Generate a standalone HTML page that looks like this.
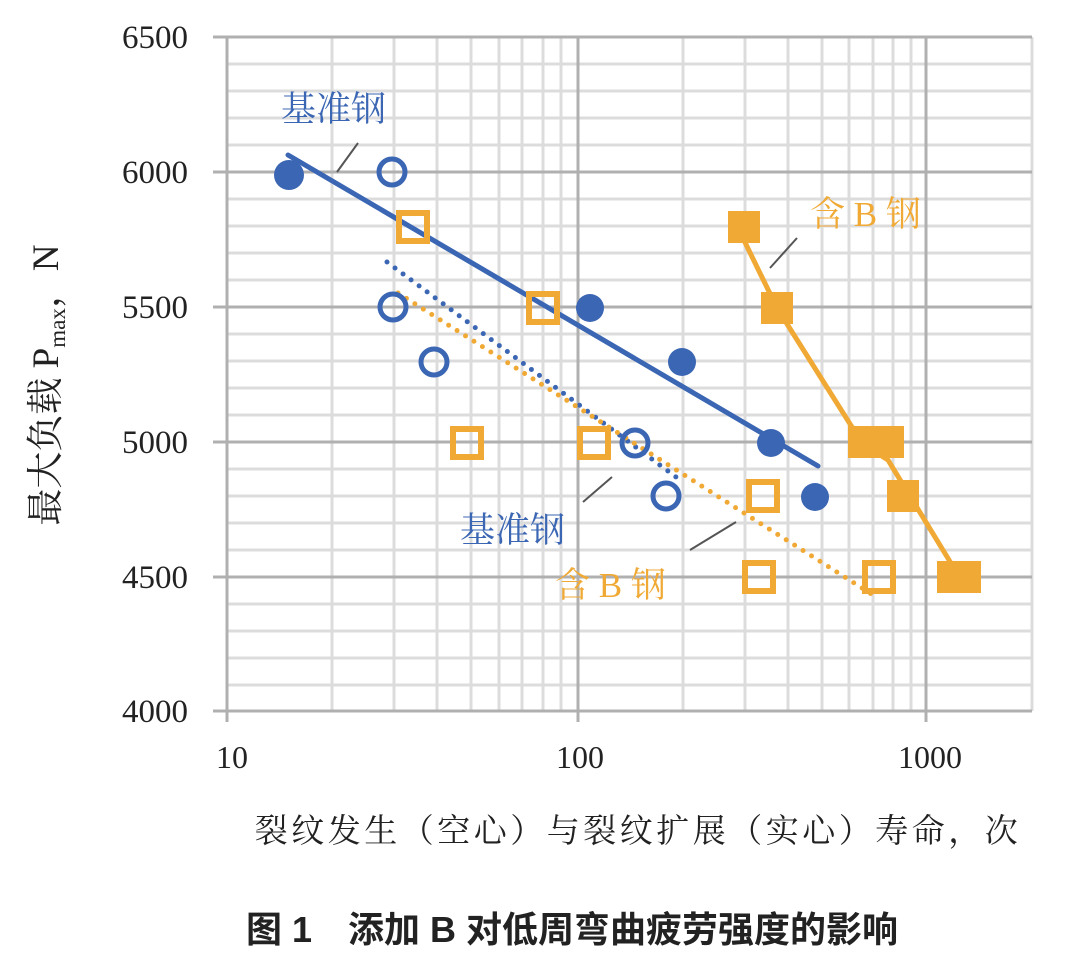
<!DOCTYPE html><html><head><meta charset="utf-8"><style>body{margin:0;background:#fff}svg{display:block}</style></head><body>
<svg width="1080" height="967" xmlns="http://www.w3.org/2000/svg" font-family="Liberation Serif, Noto Serif CJK SC, serif">
<g stroke="#dcdcdc" stroke-width="3">
<line x1="226" x2="1032" y1="64" y2="64"/><line x1="226" x2="1032" y1="91" y2="91"/><line x1="226" x2="1032" y1="118" y2="118"/><line x1="226" x2="1032" y1="145" y2="145"/>
<line x1="226" x2="1032" y1="199" y2="199"/><line x1="226" x2="1032" y1="226" y2="226"/><line x1="226" x2="1032" y1="253" y2="253"/><line x1="226" x2="1032" y1="280" y2="280"/>
<line x1="226" x2="1032" y1="334" y2="334"/><line x1="226" x2="1032" y1="361" y2="361"/><line x1="226" x2="1032" y1="388" y2="388"/><line x1="226" x2="1032" y1="415" y2="415"/>
<line x1="226" x2="1032" y1="469" y2="469"/><line x1="226" x2="1032" y1="496" y2="496"/><line x1="226" x2="1032" y1="523" y2="523"/><line x1="226" x2="1032" y1="550" y2="550"/>
<line x1="226" x2="1032" y1="604" y2="604"/><line x1="226" x2="1032" y1="631" y2="631"/><line x1="226" x2="1032" y1="658" y2="658"/><line x1="226" x2="1032" y1="685" y2="685"/>
<line y1="37" y2="711" x1="332" x2="332"/><line y1="37" y2="711" x1="394" x2="394"/><line y1="37" y2="711" x1="437" x2="437"/><line y1="37" y2="711" x1="471" x2="471"/><line y1="37" y2="711" x1="499" x2="499"/><line y1="37" y2="711" x1="522" x2="522"/><line y1="37" y2="711" x1="543" x2="543"/><line y1="37" y2="711" x1="561" x2="561"/>
<line y1="37" y2="711" x1="683" x2="683"/><line y1="37" y2="711" x1="745" x2="745"/><line y1="37" y2="711" x1="788" x2="788"/><line y1="37" y2="711" x1="822" x2="822"/><line y1="37" y2="711" x1="849" x2="849"/><line y1="37" y2="711" x1="873" x2="873"/><line y1="37" y2="711" x1="893" x2="893"/><line y1="37" y2="711" x1="911" x2="911"/>
<line y1="37" y2="711" x1="1032" x2="1032"/>
</g>
<g stroke="#b0b0b0" stroke-width="3">
<line x1="213" x2="1032" y1="37" y2="37"/><line x1="213" x2="1032" y1="172" y2="172"/><line x1="213" x2="1032" y1="307" y2="307"/><line x1="213" x2="1032" y1="442" y2="442"/><line x1="213" x2="1032" y1="577" y2="577"/><line x1="213" x2="1032" y1="711" y2="711"/>
<line y1="37" y2="722" x1="227" x2="227"/><line y1="37" y2="722" x1="578" x2="578"/><line y1="37" y2="722" x1="926" x2="926"/>
</g>
<g font-size="33" fill="#222" text-anchor="end"><text x="188" y="48">6500</text><text x="188" y="183">6000</text><text x="188" y="318">5500</text><text x="188" y="453">5000</text><text x="188" y="588">4500</text><text x="188" y="722">4000</text></g>
<g font-size="32" fill="#222" text-anchor="middle"><text x="232" y="768">10</text><text x="580" y="768">100</text><text x="930" y="768">1000</text></g>
<g stroke-linecap="round">
<line x1="288" y1="155" x2="818" y2="466" stroke="#3b66b3" stroke-width="5"/>
<polyline points="738,228 777,308 862,443 888,460 960,578" fill="none" stroke="#f0a935" stroke-width="5"/>
<line x1="387" y1="262" x2="680" y2="480" stroke="#3b66b3" stroke-width="5" stroke-dasharray="0 10"/>
<line x1="398" y1="293" x2="873" y2="595" stroke="#f0a935" stroke-width="5" stroke-dasharray="0 10"/>
</g>
<g stroke="#555" stroke-width="2"><line x1="337" y1="172" x2="358" y2="143"/><line x1="770" y1="268" x2="797" y2="238"/><line x1="583" y1="502" x2="612" y2="477"/><line x1="690" y1="550" x2="736" y2="522"/></g>
<g fill="#3b66b3"><circle cx="289" cy="175" r="15"/><circle cx="590" cy="308" r="14"/><circle cx="682" cy="362" r="14"/><circle cx="771" cy="443" r="14"/><circle cx="815" cy="497" r="14"/></g>
<g fill="none" stroke="#3b66b3" stroke-width="5"><circle cx="392" cy="172" r="13"/><circle cx="393" cy="307" r="13"/><circle cx="434" cy="362" r="13"/><circle cx="635" cy="443" r="13"/><circle cx="666" cy="496" r="13"/></g>
<g fill="none" stroke="#f0a935" stroke-width="6"><rect x="399" y="213" width="28" height="28"/><rect x="529" y="294" width="28" height="28"/><rect x="453" y="429" width="28" height="28"/><rect x="580" y="429" width="28" height="28"/><rect x="749" y="482" width="28" height="28"/><rect x="745" y="563" width="28" height="28"/><rect x="865" y="563" width="28" height="28"/></g>
<g fill="#f0a935"><rect x="728" y="211" width="32" height="32"/><rect x="761" y="292" width="32" height="32"/><rect x="848" y="426" width="56" height="32"/><rect x="887" y="480" width="32" height="32"/><rect x="937" y="561" width="44" height="32"/></g>
<g font-family="Liberation Serif, Noto Serif CJK SC, serif" font-size="35">
<text x="281" y="121" fill="#3b66b3">基准钢</text><text x="460" y="542" fill="#3b66b3">基准钢</text>
<text x="810" y="226" fill="#f0a935">含 B 钢</text><text x="555" y="597" fill="#f0a935">含 B 钢</text></g>
<text transform="translate(58,385) rotate(-90)" text-anchor="middle" font-size="37" fill="#222">最大负载 P<tspan font-size="23" dy="7">max</tspan><tspan dy="-7">，N</tspan></text>
<text x="638" y="842" text-anchor="middle" font-size="33" fill="#222" letter-spacing="3.5">裂纹发生（空心）与裂纹扩展（实心）寿命，次</text>
<text x="572" y="942" text-anchor="middle" font-size="36" font-weight="bold" fill="#222" font-family="Liberation Sans, Noto Sans CJK SC, sans-serif">图 1　添加 B 对低周弯曲疲劳强度的影响</text>
</svg></body></html>
